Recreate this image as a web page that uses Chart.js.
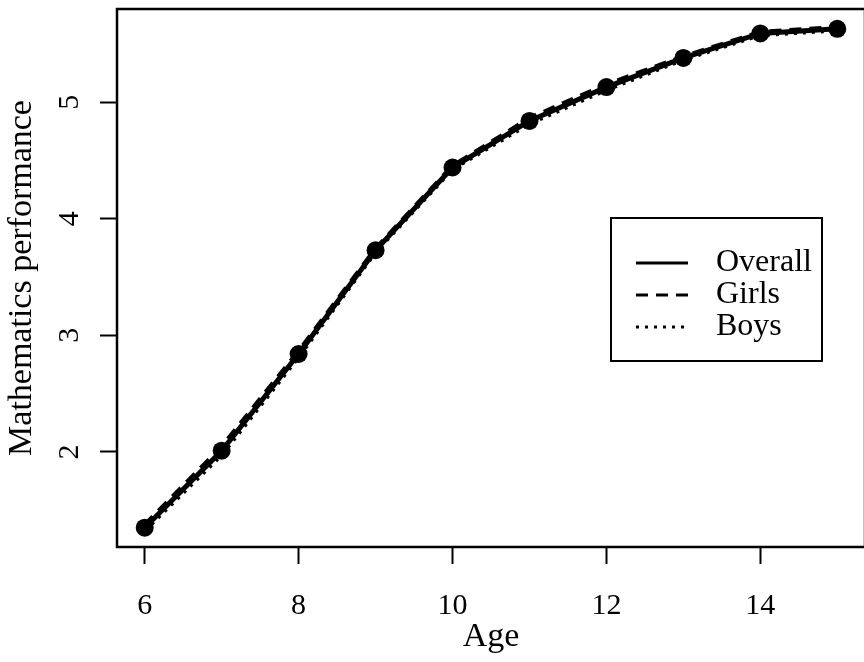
<!DOCTYPE html>
<html>
<head>
<meta charset="utf-8">
<script src="https://cdn.jsdelivr.net/npm/chart.js@4"></script>
<style>
  html, body { margin: 0; padding: 0; background: #ffffff; overflow: hidden; }
  #wrap { position: relative; width: 874px; height: 662px; }
</style>
</head>
<body>
<div id="wrap"><canvas id="mathChart"></canvas></div>
<script>
const ages = [6, 7, 8, 9, 10, 11, 12, 13, 14, 15];
const overallScores = [1.35, 2.01, 2.84, 3.73, 4.44, 4.84, 5.13, 5.38, 5.59, 5.63];
const girlsScores = [1.37, 2.04, 2.86, 3.74, 4.45, 4.86, 5.15, 5.39, 5.60, 5.64];
const boysScores = [1.33, 1.98, 2.82, 3.72, 4.43, 4.82, 5.11, 5.37, 5.58, 5.62];
const xTickValues = [6, 8, 10, 12, 14];
const yTickValues = [2, 3, 4, 5];
const legendLabels = ['Overall', 'Girls', 'Boys'];

const serifFont = "'Liberation Serif', 'Times New Roman', serif";
const tickPx = 30;
const titlePx = 34;
const legendPx = 32;

function toPoints(values) {
    return ages.map((age, i) => ({ x: age, y: values[i] }));
}

const dashFor = { Overall: [], Girls: [12, 8], Boys: [3, 6] };

const boxAndLabels = {
    id: 'boxAndLabels',
    afterDraw(chart) {
        const ctx = chart.ctx;
        const area = chart.chartArea;
        const yScale = chart.scales.y;

        ctx.save();
        ctx.strokeStyle = '#000';
        ctx.lineWidth = 2.5;
        ctx.strokeRect(area.left, area.top, area.right - area.left, area.bottom - area.top);

        // y tick labels, rotated like base R axis labels
        ctx.fillStyle = '#000';
        ctx.font = tickPx + 'px ' + serifFont;
        ctx.textAlign = 'center';
        ctx.textBaseline = 'alphabetic';
        yTickValues.forEach(v => {
            ctx.save();
            ctx.translate(area.left - 39, yScale.getPixelForValue(v));
            ctx.rotate(-Math.PI / 2);
            ctx.fillText(String(v), 0, 0);
            ctx.restore();
        });

        // legend box inside the plot
        const lx = 611, ly = 218, lw = 211, lh = 143;
        ctx.lineWidth = 2;
        ctx.strokeRect(lx, ly, lw, lh);
        const rowY = [263, 295, 327];
        ctx.font = legendPx + 'px ' + serifFont;
        legendLabels.forEach((label, i) => {
            ctx.beginPath();
            ctx.setLineDash(dashFor[label]);
            ctx.lineWidth = 3;
            ctx.moveTo(636, rowY[i]);
            ctx.lineTo(688, rowY[i]);
            ctx.stroke();
            ctx.setLineDash([]);
            ctx.textAlign = 'left';
            ctx.fillText(label, 716, rowY[i] + 8);
        });
        ctx.restore();
    }
};

const ctx = document.getElementById('mathChart').getContext('2d');
window.chart = new Chart(ctx, {
    type: 'line',
    data: {
        datasets: [
            {
                label: 'Overall',
                data: toPoints(overallScores),
                borderColor: '#000',
                backgroundColor: '#000',
                borderWidth: 5,
                pointRadius: 9,
                pointBackgroundColor: '#000',
                pointBorderWidth: 0,
                tension: 0,
                fill: false
            },
            {
                label: 'Girls',
                data: toPoints(girlsScores),
                borderColor: '#000',
                borderWidth: 5,
                borderDash: dashFor.Girls,
                pointRadius: 0,
                tension: 0,
                fill: false
            },
            {
                label: 'Boys',
                data: toPoints(boysScores),
                borderColor: '#000',
                borderWidth: 5,
                borderDash: dashFor.Boys,
                pointRadius: 0,
                tension: 0,
                fill: false
            }
        ]
    },
    options: {
        responsive: true,
        maintainAspectRatio: false,
        animation: false,
        devicePixelRatio: 1,
        layout: { padding: { top: 8, right: 5, left: 0, bottom: 0 } },
        scales: {
            x: {
                type: 'linear',
                min: 5.64,
                max: 15.36,
                afterBuildTicks: scale => { scale.ticks = xTickValues.map(v => ({ value: v })); },
                afterFit: scale => { scale.height = 115; },
                grid: {
                    display: true,
                    drawOnChartArea: false,
                    drawTicks: true,
                    tickLength: 17,
                    tickWidth: 2,
                    tickColor: '#000'
                },
                border: { display: false },
                ticks: {
                    color: '#000',
                    padding: 24,
                    maxRotation: 0,
                    font: { family: serifFont, size: tickPx }
                },
                title: {
                    display: true,
                    text: 'Age',
                    color: '#000',
                    padding: { top: 0, bottom: 5 },
                    font: { family: serifFont, size: titlePx }
                }
            },
            y: {
                type: 'linear',
                min: 1.184,
                max: 5.80,
                afterBuildTicks: scale => { scale.ticks = yTickValues.map(v => ({ value: v })); },
                afterFit: scale => { scale.width = 117; },
                grid: {
                    display: true,
                    drawOnChartArea: false,
                    drawTicks: true,
                    tickLength: 17,
                    tickWidth: 2,
                    tickColor: '#000'
                },
                border: { display: false },
                ticks: { display: false },
                title: {
                    display: true,
                    text: 'Mathematics performance',
                    color: '#000',
                    padding: { top: 2, bottom: 0 },
                    font: { family: serifFont, size: titlePx }
                }
            }
        },
        plugins: {
            legend: { display: false },
            tooltip: { enabled: false }
        }
    },
    plugins: [boxAndLabels]
});
</script>
</body>
</html>
